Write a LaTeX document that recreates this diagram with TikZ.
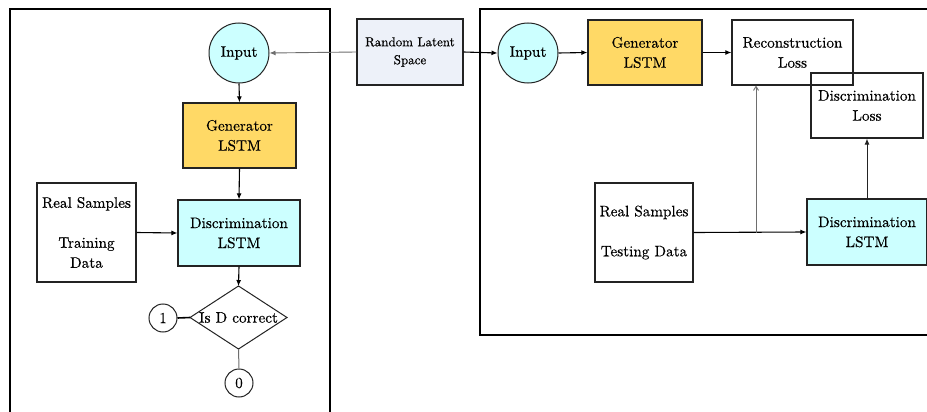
\documentclass[tikz,border=0pt]{standalone}
\usepackage{fontspec}
\setmainfont{lmroman10-regular.otf}[FakeBold=0.35]
\usetikzlibrary{arrows.meta}
\definecolor{genfill}{RGB}{255,217,102}
\definecolor{discfill}{RGB}{204,255,255}
\definecolor{latentfill}{RGB}{237,241,249}
\definecolor{edgecol}{RGB}{35,35,35}
\definecolor{linkgray}{RGB}{110,110,110}
\begin{document}
\begin{tikzpicture}[x=1pt,y=-1pt,
  txt/.style={font=\rmfamily\fontsize{15.2}{20}\selectfont, align=center, text=black},
  blk/.style={txt, draw=edgecol, line width=1.2pt, inner sep=0pt},
  rnd/.style={txt, draw=edgecol, line width=1pt, circle, inner sep=0pt},
  frame/.style={draw=black, line width=1.4pt},
  flow/.style={-{Latex[length=6pt,width=5pt]}, line width=1.1pt, draw=black},
  thinflow/.style={-{Latex[length=6pt,width=5pt]}, line width=0.9pt, draw=linkgray},
  openflow/.style={-{Straight Barb[length=4pt,width=5pt]}, line width=0.9pt, draw=linkgray}]
  \useasboundingbox (0,0) rectangle (927,412);
  \fill[white] (0,0) rectangle (927,412);
  \clip (0,0) rectangle (927,412);

  % training and testing frames
  \draw[frame] (10,425) -- (10,9) -- (330,9) -- (330,425);
  \draw[frame] (945,335) -- (480,335) -- (480,9) -- (945,9);

  % shared latent space
  \node[blk, fill=latentfill, minimum width=106pt, minimum height=66pt,
        font=\rmfamily\fontsize{13}{18}\selectfont] (latent) at (410,52) {Random Latent\\Space};

  % training branch
  \node[rnd, fill=discfill, minimum size=60pt] (inL) at (239,53) {Input};
  \node[blk, fill=genfill, minimum width=113pt, minimum height=65pt] (genL) at (239.5,135.5) {Generator\\LSTM};
  \node[blk, fill=discfill, minimum width=122pt, minimum height=66pt] (discL) at (239,233) {Discrimination\\LSTM};
  \node[blk, minimum width=99pt, minimum height=99pt] (realL) at (86.5,232.5) {Real Samples\\[20pt]Training\\Data};

  \coordinate (dtop) at (238.5,286);
  \coordinate (dleft) at (190,317.5);
  \coordinate (dright) at (287,317.5);
  \coordinate (dbot) at (238.5,349);
  \draw[draw=edgecol, line width=1pt] (dtop) -- (dright) -- (dbot) -- (dleft) -- cycle;
  \node[txt, inner sep=0pt] (decide) at (238.5,317.5) {Is D correct};

  \node[rnd, minimum size=28pt] (one) at (163,318) {1};
  \node[rnd, minimum size=28pt] (zero) at (239,383) {0};

  \draw[thinflow] (latent.west) -- (inL.east);
  \draw[flow] (inL.south) -- (genL.north);
  \draw[flow] (genL.south) -- (discL.north);
  \draw[flow] (realL.east) -- (discL.west);
  \draw[flow] (discL.south) -- (dtop);
  \draw[line width=1.6pt] (one.east) -- (dleft);
  \draw[linkgray, line width=1pt] (dbot) -- (zero.north);

  % testing branch
  \node[rnd, fill=discfill, minimum size=60pt] (inR) at (528,53) {Input};
  \node[blk, fill=genfill, minimum width=114pt, minimum height=65pt] (genR) at (645,52.5) {Generator\\LSTM};
  \node[blk, minimum width=121pt, minimum height=65pt] (recon) at (792.5,52.5) {Reconstruction\\Loss};
  \node[blk, minimum width=112pt, minimum height=65pt] (dloss) at (867,105.5) {Discrimination\\Loss};
  \node[blk, minimum width=98pt, minimum height=99pt] (realR) at (644,232.5) {Real Samples\\[20pt]Testing Data};
  \node[blk, fill=discfill, minimum width=120pt, minimum height=66pt] (discR) at (867,232) {Discrimination\\LSTM};

  \coordinate (split) at (756,233);
  \draw[flow] (latent.east) -- (inR.west);
  \draw[flow] (inR.east) -- (genR.west);
  \draw[flow] (genR.east) -- (recon.west);
  \draw[flow] (realR.east) -- (discR.west);
  \draw[openflow] (split) -- (split |- recon.south);
  \draw[flow, draw=edgecol, line width=0.9pt] (discR.north) -- (dloss.south);
\end{tikzpicture}
\end{document}
